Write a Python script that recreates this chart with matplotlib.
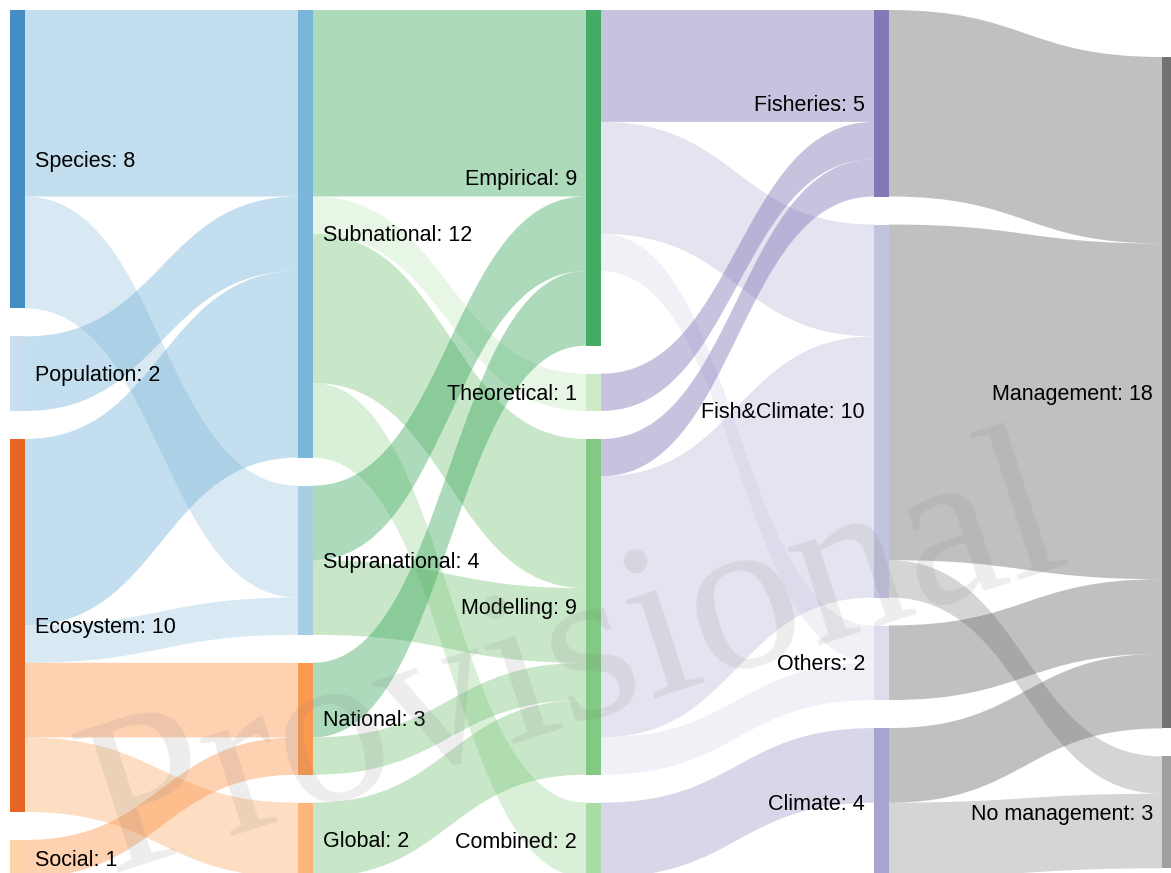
import matplotlib
matplotlib.use('Agg')
import matplotlib.pyplot as plt
from matplotlib.path import Path
from matplotlib.patches import PathPatch, Rectangle
from matplotlib.colors import to_rgba

# node names, one list per column
scale_nodes = ['Species', 'Population', 'Ecosystem', 'Social']
extent_nodes = ['Subnational', 'Supranational', 'National', 'Global']
method_nodes = ['Empirical', 'Theoretical', 'Modelling', 'Combined']
topic_nodes = ['Fisheries', 'Fish&Climate', 'Others', 'Climate']
mgmt_nodes = ['Management', 'No management']

# node colours
scale_colors = ['#3182bd', '#c6dbef', '#e6550d', '#fdd0a2']
extent_colors = ['#6baed6', '#9ecae1', '#fd8d3c', '#fdae6b']
method_colors = ['#31a354', '#c7e9c0', '#74c476', '#a1d99b']
topic_colors = ['#756bb1', '#bcbddc', '#dadaeb', '#9e9ac8']
mgmt_colors = ['#636363', '#969696']

# links (source, target, count)
scale_to_extent = [
    ('Species', 'Subnational', 5),
    ('Species', 'Supranational', 3),
    ('Population', 'Subnational', 2),
    ('Ecosystem', 'Subnational', 5),
    ('Ecosystem', 'Supranational', 1),
    ('Ecosystem', 'National', 2),
    ('Ecosystem', 'Global', 2),
    ('Social', 'National', 1),
]
extent_to_method = [
    ('Subnational', 'Empirical', 5),
    ('Subnational', 'Theoretical', 1),
    ('Subnational', 'Modelling', 4),
    ('Subnational', 'Combined', 2),
    ('Supranational', 'Empirical', 2),
    ('Supranational', 'Modelling', 2),
    ('National', 'Empirical', 2),
    ('National', 'Modelling', 1),
    ('Global', 'Modelling', 2),
]
method_to_topic = [
    ('Empirical', 'Fisheries', 3),
    ('Empirical', 'Fish&Climate', 3),
    ('Empirical', 'Others', 1),
    ('Theoretical', 'Fisheries', 1),
    ('Modelling', 'Fisheries', 1),
    ('Modelling', 'Fish&Climate', 7),
    ('Modelling', 'Others', 1),
    ('Combined', 'Climate', 2),
]
topic_to_mgmt = [
    ('Fisheries', 'Management', 5),
    ('Fish&Climate', 'Management', 9),
    ('Fish&Climate', 'No management', 1),
    ('Others', 'Management', 2),
    ('Climate', 'Management', 2),
    ('Climate', 'No management', 2),
]

columns = [scale_nodes, extent_nodes, method_nodes, topic_nodes, mgmt_nodes]
col_colors = [scale_colors, extent_colors, method_colors, topic_colors, mgmt_colors]
links = scale_to_extent + extent_to_method + method_to_topic + topic_to_mgmt

# layout (pixels)
W, H = 1171, 873
UNIT = 37.3
GAP = 28
NODE_W = 15
COL_STEP = 288
col_x = [10 + COL_STEP * i for i in range(len(columns))]
col_top = [10, 10, 10, 10, 57]


def layout():
    inflow, outflow = {}, {}
    for s, t, v in links:
        outflow[s] = outflow.get(s, 0) + v
        inflow[t] = inflow.get(t, 0) + v
    col_of, rank, value, node_y, node_x, color = {}, {}, {}, {}, {}, {}
    for c, names in enumerate(columns):
        y = col_top[c]
        for r, n in enumerate(names):
            col_of[n] = c
            rank[n] = r
            value[n] = max(inflow.get(n, 0), outflow.get(n, 0))
            node_y[n] = y
            node_x[n] = col_x[c]
            color[n] = col_colors[c][r]
            y += value[n] * UNIT + GAP
    return col_of, rank, value, node_y, node_x, color


col_of, rank, value, node_y, node_x, color = layout()

# offsets where each link leaves its source and enters its target
src_pos, tgt_pos = {}, {}
for n in node_y:
    outs = sorted([l for l in links if l[0] == n], key=lambda l: rank[l[1]])
    y = node_y[n]
    for l in outs:
        src_pos[l] = y
        y += l[2] * UNIT
    ins = sorted([l for l in links if l[1] == n], key=lambda l: rank[l[0]])
    y = node_y[n]
    for l in ins:
        tgt_pos[l] = y
        y += l[2] * UNIT

fig = plt.figure(figsize=(W / 100, H / 100), dpi=100)
ax = fig.add_axes([0, 0, 1, 1])
ax.set_xlim(0, W)
ax.set_ylim(H, 0)
ax.axis('off')

for l in links:
    s, t, v = l
    x0 = node_x[s] + NODE_W
    x1 = node_x[t]
    xm = (x0 + x1) / 2
    y0, y1 = src_pos[l], tgt_pos[l]
    h = v * UNIT
    verts = [(x0, y0), (xm, y0), (xm, y1), (x1, y1),
             (x1, y1 + h),
             (xm, y1 + h), (xm, y0 + h), (x0, y0 + h),
             (x0, y0)]
    codes = [Path.MOVETO, Path.CURVE4, Path.CURVE4, Path.CURVE4,
             Path.LINETO,
             Path.CURVE4, Path.CURVE4, Path.CURVE4,
             Path.CLOSEPOLY]
    ax.add_patch(PathPatch(Path(verts, codes), facecolor=to_rgba(color[t], 0.4),
                           edgecolor='none', zorder=1))

for n in node_y:
    c = col_of[n]
    ax.add_patch(Rectangle((node_x[n], node_y[n]), NODE_W, value[n] * UNIT,
                           facecolor=to_rgba(color[n], 0.9), edgecolor='none', zorder=2))
    yc = node_y[n] + value[n] * UNIT / 2 + 2
    label = f'{n}: {value[n]}'
    if c < 2:
        ax.text(node_x[n] + NODE_W + 10, yc, label, ha='left', va='center',
                fontsize=15.5, family='Liberation Sans', color='black', zorder=3)
    else:
        ax.text(node_x[n] - 9, yc, label, ha='right', va='center',
                fontsize=15.5, family='Liberation Sans', color='black', zorder=3)

# watermark
ax.text(575, 665, 'Provisional', fontsize=160, family='Liberation Serif',
        rotation=18, rotation_mode='anchor', ha='center', va='center',
        color='#808080', alpha=0.14, zorder=4)

fig.savefig('out.png', dpi=100)
